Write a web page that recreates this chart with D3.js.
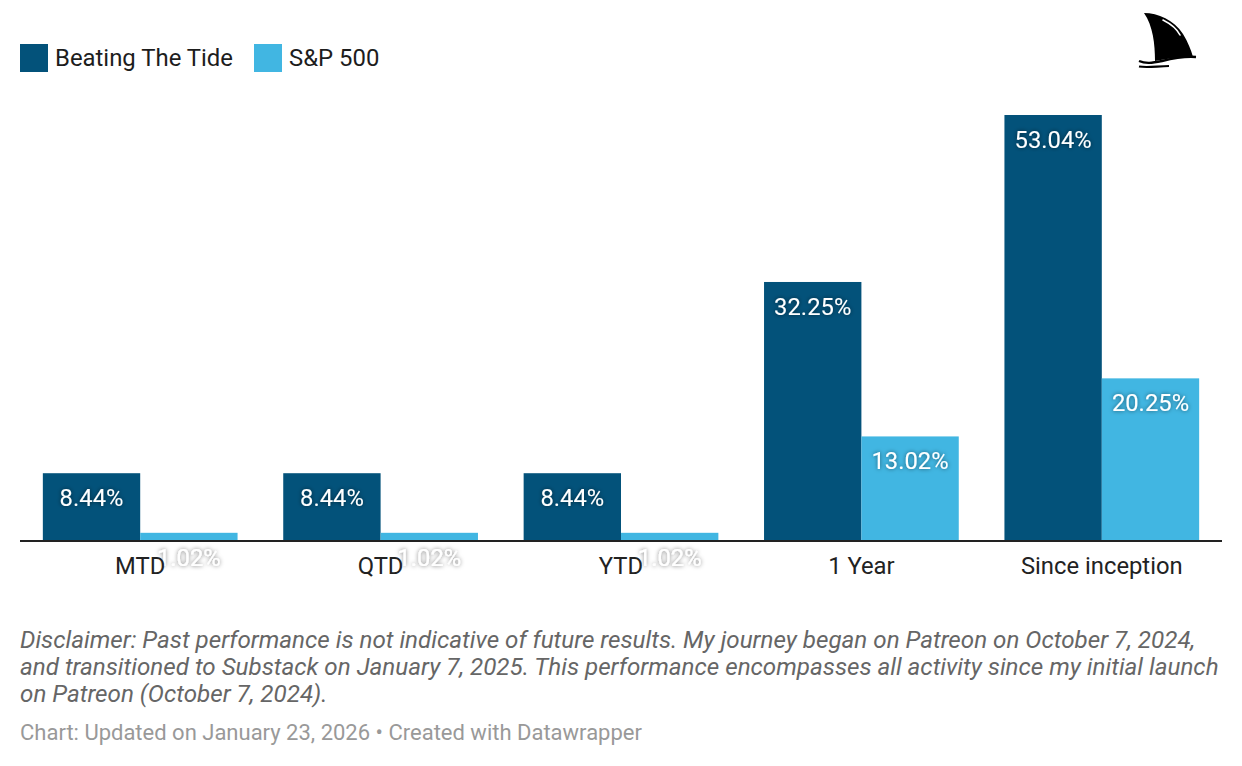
<!DOCTYPE html>
<html><head><meta charset="utf-8">
<script src="https://cdn.jsdelivr.net/npm/d3@7"></script>
<style>
html,body{margin:0;padding:0;background:#fff;}
svg{display:block;font-family:Roboto,"Noto Sans",sans-serif;}
</style></head>
<body>
<svg id="c" width="1242" height="766"></svg>
<script>
const categories = ["MTD","QTD","YTD","1 Year","Since inception"];
const seriesNames = ["Beating The Tide","S&P 500"];
const beatingTheTide = [8.44, 8.44, 8.44, 32.25, 53.04];
const sp500 = [1.02, 1.02, 1.02, 13.02, 20.25];
const colors = ["#03527a","#41b6e2"];
const disclaimerLines = [
  "Disclaimer: Past performance is not indicative of future results. My journey began on Patreon on October 7, 2024,",
  "and transitioned to Substack on January 7, 2025. This performance encompasses all activity since my initial launch",
  "on Patreon (October 7, 2024)."
];
const noteText = "Chart: Updated on January 23, 2026 \u2022 Created with Datawrapper";

const svg = d3.select("#c");
const defs = svg.append("defs");
const f = defs.append("filter").attr("id","sh").attr("x","-20%").attr("y","-40%").attr("width","140%").attr("height","180%");
f.append("feDropShadow").attr("dx",0).attr("dy",0).attr("stdDeviation",1.9).attr("flood-color","#000").attr("flood-opacity",0.55);

const left = 20, right = 1222, baseY = 541, topY = 115;
const x0 = d3.scaleBand().domain(categories).range([left,right]).paddingInner(0.19).paddingOuter(0.095);
const x1 = d3.scaleBand().domain(seriesNames).range([0,x0.bandwidth()]);
const y = d3.scaleLinear().domain([0,53.04]).range([baseY, topY]);

const data = categories.map((c,i)=>({cat:c, vals:[beatingTheTide[i], sp500[i]]}));

const g = svg.append("g");
const groups = g.selectAll("g.grp").data(data).join("g").attr("transform",d=>`translate(${x0(d.cat)},0)`);
groups.selectAll("rect").data(d=>d.vals.map((v,j)=>({v,j}))).join("rect")
  .attr("x",d=>x1(seriesNames[d.j])).attr("width",x1.bandwidth())
  .attr("y",d=>y(d.v)).attr("height",d=>baseY-y(d.v)).attr("fill",d=>colors[d.j]);

// axis
const xAxis = d3.axisBottom(x0).tickSize(0).tickPadding(0);
const ax = svg.append("g").attr("transform",`translate(0,${baseY})`).call(xAxis);
ax.select(".domain").remove();
ax.selectAll("text").attr("font-size","23.8px").attr("fill","#222").attr("font-family","Roboto").attr("dy",null).attr("y",33);
svg.append("line").attr("x1",left).attr("x2",right).attr("y1",baseY).attr("y2",baseY).attr("stroke","#222").attr("stroke-width",2);

// value labels
groups.selectAll("text.val").data(d=>d.vals.map((v,j)=>({v,j}))).join("text")
  .attr("class","val")
  .attr("x",d=>x1(seriesNames[d.j])+x1.bandwidth()/2)
  .attr("y",d=>y(d.v)+33)
  .attr("text-anchor","middle").attr("font-size","23.8px").attr("fill","#fff")
  .attr("filter","url(#sh)")
  .text(d=>d3.format(".2f")(d.v)+"%");

// legend
const leg = svg.append("g");
let lx = 20;
seriesNames.forEach((n,i)=>{
  leg.append("rect").attr("x",lx).attr("y",44).attr("width",28).attr("height",28).attr("fill",colors[i]);
  const t = leg.append("text").attr("x",lx+35).attr("y",66).attr("font-size","23.9px").attr("fill","#1d1d1d").text(n);
  lx += 35 + t.node().getComputedTextLength() + 21;
});

// logo (shark fin)
const logo = svg.append("g").attr("transform","translate(1138,12)");
logo.append("path").attr("d","M6,1 C20,1 36,8 45,22 C50,30 53,38 55,45 C42,45 28,47 17,49 C17,32 15,14 6,1 Z").attr("fill","#000");
logo.append("path").attr("d","M25,8 C33,12 39,17 42,23").attr("stroke","#fff").attr("stroke-width",1.6).attr("fill","none").attr("stroke-linecap","round");
logo.append("path").attr("d","M1,49 C8,52 14,51 24,49 C36,46 46,44 58,45").attr("stroke","#000").attr("stroke-width",2.4).attr("fill","none");
logo.append("path").attr("d","M1,54.5 C10,56 20,54 31,54").attr("stroke","#000").attr("stroke-width",2.2).attr("fill","none");

// footer
const disc = svg.append("text").attr("x",20).attr("font-size","24.2px").attr("font-style","italic").attr("fill","#666");
disclaimerLines.forEach((l,i)=>disc.append("tspan").attr("x",20).attr("y",648+i*27).text(l));
svg.append("text").attr("x",20).attr("y",740).attr("font-size","22px").attr("fill","#999").text(noteText);
</script>
</body></html>
